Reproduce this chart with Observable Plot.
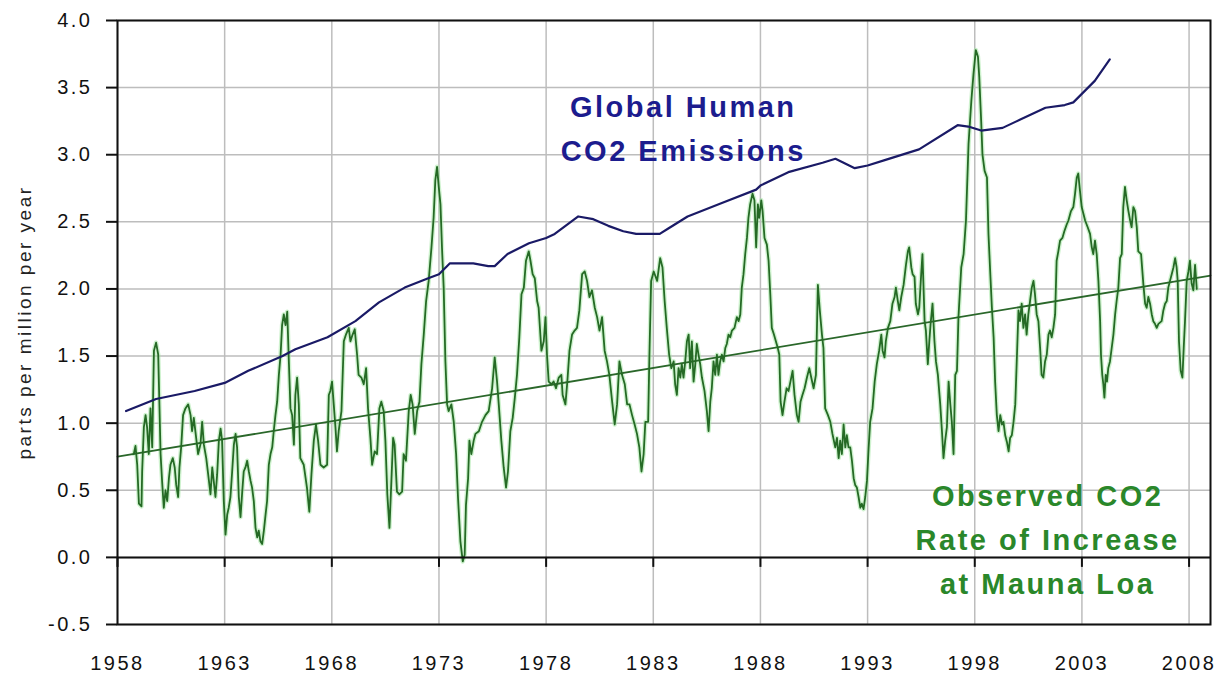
<!DOCTYPE html>
<html><head><meta charset="utf-8">
<script src="https://cdn.jsdelivr.net/npm/d3@7"></script>
<script src="https://cdn.jsdelivr.net/npm/@observablehq/plot@0.6"></script>
<style>html,body{margin:0;padding:0;background:#fff}</style>
</head><body><div id="chart"></div>
<script>
// ---- data ----
const xTicks = [1958, 1963, 1968, 1973, 1978, 1983, 1988, 1993, 1998, 2003, 2008];
const yTicks = [-0.5, 0, 0.5, 1, 1.5, 2, 2.5, 3, 3.5, 4];
const yLabel = "parts per million per year";

// Global human CO2 emissions, expressed in ppm per year [year, value]
const emissions = [[1958.4,1.09],[1959.8,1.18],[1961.6,1.24],[1963.0,1.30],[1964.1,1.39],[1965.7,1.50],[1966.3,1.55],[1967.8,1.64],[1969.1,1.76],[1970.2,1.90],[1971.4,2.01],[1972.5,2.08],[1973.0,2.11],[1973.5,2.19],[1974.6,2.19],[1975.3,2.17],[1975.6,2.17],[1976.2,2.26],[1977.2,2.34],[1978.0,2.38],[1978.4,2.41],[1979.5,2.54],[1980.2,2.52],[1980.9,2.47],[1981.6,2.43],[1982.2,2.41],[1983.3,2.41],[1983.7,2.45],[1984.6,2.54],[1986.2,2.64],[1987.8,2.74],[1988.0,2.77],[1989.3,2.87],[1990.9,2.94],[1991.5,2.97],[1992.4,2.90],[1993.0,2.92],[1993.8,2.96],[1995.4,3.04],[1997.2,3.22],[1997.7,3.21],[1998.3,3.18],[1999.3,3.20],[2000.1,3.26],[2001.3,3.35],[2002.2,3.37],[2002.6,3.39],[2003.6,3.55],[2004.3,3.71]];

// Observed CO2 rate of increase at Mauna Loa [year, value]
const rate = [[1958.76,0.77],[1958.84,0.83],[1958.92,0.69],[1959.00,0.40],[1959.12,0.38],[1959.15,0.64],[1959.23,0.97],[1959.31,1.06],[1959.38,0.97],[1959.46,0.77],[1959.54,1.11],[1959.62,0.82],[1959.70,1.54],[1959.80,1.60],[1959.90,1.51],[1959.96,1.11],[1960.01,0.77],[1960.08,0.57],[1960.16,0.37],[1960.24,0.50],[1960.32,0.42],[1960.40,0.59],[1960.47,0.69],[1960.58,0.74],[1960.67,0.67],[1960.74,0.54],[1960.83,0.45],[1960.89,0.67],[1960.97,0.82],[1961.06,1.06],[1961.17,1.11],[1961.30,1.14],[1961.41,1.06],[1961.48,0.94],[1961.56,1.04],[1961.67,0.89],[1961.76,0.77],[1961.87,0.84],[1961.95,1.01],[1962.03,0.84],[1962.14,0.74],[1962.23,0.62],[1962.34,0.47],[1962.42,0.67],[1962.49,0.57],[1962.57,0.45],[1962.65,0.62],[1962.73,0.87],[1962.81,0.96],[1962.88,0.87],[1962.96,0.42],[1963.04,0.17],[1963.12,0.32],[1963.19,0.37],[1963.27,0.45],[1963.35,0.64],[1963.43,0.84],[1963.51,0.92],[1963.58,0.82],[1963.66,0.45],[1963.74,0.30],[1963.82,0.49],[1963.89,0.64],[1963.97,0.67],[1964.05,0.72],[1964.13,0.64],[1964.21,0.57],[1964.28,0.52],[1964.36,0.42],[1964.44,0.22],[1964.52,0.15],[1964.59,0.20],[1964.67,0.12],[1964.75,0.10],[1964.83,0.20],[1964.91,0.32],[1964.98,0.42],[1965.06,0.69],[1965.14,0.77],[1965.22,0.82],[1965.29,0.94],[1965.37,1.06],[1965.45,1.16],[1965.53,1.36],[1965.61,1.51],[1965.68,1.73],[1965.76,1.81],[1965.84,1.73],[1965.92,1.83],[1966.00,1.44],[1966.07,1.11],[1966.15,1.06],[1966.23,0.84],[1966.30,1.21],[1966.38,1.34],[1966.46,1.14],
[1966.53,0.74],[1966.69,0.69],[1966.84,0.52],[1966.95,0.34],[1967.05,0.62],[1967.16,0.87],[1967.26,0.99],[1967.36,0.87],[1967.47,0.69],[1967.62,0.67],[1967.78,0.69],[1967.86,1.21],[1967.93,1.24],[1968.01,1.31],[1968.09,1.14],[1968.17,0.97],[1968.24,0.79],[1968.32,0.94],[1968.45,1.09],[1968.56,1.61],[1968.66,1.66],[1968.79,1.71],[1968.87,1.61],[1968.97,1.66],[1969.07,1.70],[1969.18,1.51],[1969.25,1.36],[1969.38,1.34],[1969.49,1.29],[1969.60,1.41],[1969.69,1.11],[1969.80,0.89],[1969.88,0.69],[1970.00,0.79],[1970.11,0.77],[1970.22,1.11],[1970.31,1.16],[1970.42,1.09],[1970.50,0.87],[1970.59,0.47],[1970.69,0.22],[1970.78,0.57],[1970.86,0.89],[1970.93,0.84],[1971.04,0.49],[1971.15,0.47],[1971.28,0.49],[1971.35,0.77],[1971.46,0.72],[1971.59,1.09],[1971.68,1.21],[1971.77,1.14],[1971.87,0.92],[1971.98,1.09],[1972.09,1.16],[1972.18,1.44],[1972.29,1.66],[1972.40,1.91],[1972.52,2.06],[1972.65,2.31],[1972.75,2.53],[1972.83,2.81],[1972.91,2.91],[1972.99,2.76],[1973.07,2.63],[1973.14,2.31],[1973.22,2.01],[1973.30,1.46],[1973.38,1.14],[1973.45,1.09],[1973.58,1.14],[1973.69,1.01],[1973.80,0.77],[1973.89,0.44],[1974.00,0.12],[1974.11,-0.03],[1974.20,0.02],[1974.26,0.39],[1974.36,0.59],[1974.42,0.87],[1974.51,0.77],[1974.62,0.87],
[1974.70,0.92],[1974.86,0.94],[1975.01,1.01],[1975.17,1.06],[1975.32,1.09],[1975.48,1.26],[1975.60,1.49],[1975.71,1.31],[1975.79,1.14],[1975.91,0.87],[1976.02,0.67],[1976.13,0.52],[1976.22,0.64],[1976.33,0.94],[1976.44,1.04],[1976.54,1.19],[1976.64,1.36],[1976.75,1.64],[1976.85,1.96],[1976.96,2.01],[1977.06,2.21],[1977.19,2.28],[1977.27,2.21],[1977.37,2.11],[1977.47,2.08],[1977.58,1.91],[1977.65,1.86],[1977.78,1.54],[1977.89,1.61],[1977.97,1.79],[1978.04,1.51],[1978.12,1.31],[1978.25,1.29],[1978.35,1.31],[1978.46,1.26],[1978.59,1.34],[1978.71,1.36],[1978.77,1.21],[1978.90,1.14],[1978.99,1.31],[1979.09,1.54],[1979.21,1.66],[1979.33,1.69],[1979.44,1.71],[1979.55,1.84],[1979.68,2.11],[1979.80,2.13],[1979.91,2.06],[1980.02,1.94],[1980.14,1.99],[1980.27,1.86],[1980.38,1.79],[1980.49,1.69],[1980.61,1.79],[1980.73,1.54],[1980.84,1.46],[1980.95,1.36],[1981.08,1.16],[1981.20,0.99],[1981.31,1.14],[1981.42,1.46],[1981.54,1.36],[1981.67,1.29],[1981.78,1.14],[1981.89,1.14],[1982.01,1.06],[1982.13,0.99],[1982.24,0.92],[1982.35,0.82],[1982.45,0.64],[1982.55,0.77],[1982.63,1.01],[1982.76,1.01],[1982.82,1.51],[1982.90,2.06],[1983.02,2.13],[1983.18,2.06],
[1983.32,2.23],[1983.43,2.16],[1983.53,1.91],[1983.63,1.71],[1983.74,1.51],[1983.84,1.41],[1983.95,1.46],[1984.02,1.29],[1984.10,1.21],[1984.18,1.41],[1984.26,1.34],[1984.33,1.44],[1984.41,1.34],[1984.49,1.46],[1984.57,1.61],[1984.65,1.66],[1984.72,1.41],[1984.80,1.61],[1984.88,1.31],[1984.96,1.44],[1985.03,1.59],[1985.11,1.51],[1985.19,1.44],[1985.27,1.34],[1985.39,1.24],[1985.50,1.09],[1985.58,0.94],[1985.66,1.16],[1985.73,1.26],[1985.81,1.46],[1985.89,1.36],[1985.97,1.51],[1986.04,1.36],[1986.12,1.46],[1986.20,1.51],[1986.28,1.46],[1986.36,1.56],[1986.43,1.59],[1986.51,1.66],[1986.59,1.64],[1986.67,1.69],[1986.79,1.71],[1986.90,1.79],[1986.98,1.76],[1987.06,1.81],[1987.13,2.01],[1987.21,2.11],[1987.29,2.26],[1987.37,2.38],[1987.44,2.53],[1987.52,2.63],[1987.63,2.71],[1987.72,2.66],[1987.80,2.31],[1987.88,2.63],[1987.94,2.53],[1988.04,2.66],[1988.10,2.58],[1988.19,2.38],[1988.30,2.33],[1988.38,2.21],[1988.46,1.96],[1988.53,1.71],[1988.63,1.66],[1988.72,1.61],[1988.81,1.56],[1988.88,1.51],[1988.94,1.16],[1989.03,1.06],[1989.12,1.16],[1989.22,1.26],[1989.31,1.24],[1989.40,1.31],[1989.50,1.39],[1989.59,1.21],[1989.70,1.06],[1989.78,1.01],[1989.87,1.16],[1989.96,1.21],[1990.06,1.26],[1990.17,1.34],[1990.28,1.41],[1990.37,1.34],[1990.48,1.26],[1990.59,1.36],[1990.68,2.03],[1990.77,1.84],[1990.87,1.66],[1990.94,1.56],[1991.02,1.11],[1991.15,1.06],[1991.26,1.01],[1991.36,0.92],[1991.49,0.82],
[1991.57,0.89],[1991.65,0.74],[1991.72,0.87],[1991.80,0.77],[1991.88,0.99],[1991.96,0.82],[1992.03,0.91],[1992.11,0.82],[1992.19,0.82],[1992.27,0.72],[1992.35,0.59],[1992.42,0.54],[1992.50,0.52],[1992.58,0.45],[1992.66,0.37],[1992.73,0.40],[1992.81,0.36],[1992.89,0.45],[1992.97,0.57],[1993.05,0.82],[1993.12,1.01],[1993.23,1.11],[1993.33,1.31],[1993.43,1.44],[1993.54,1.54],[1993.64,1.66],[1993.70,1.54],[1993.79,1.49],[1993.85,1.61],[1993.95,1.71],[1994.06,1.76],[1994.16,1.89],[1994.26,1.94],[1994.32,2.01],[1994.41,1.91],[1994.48,1.84],[1994.57,1.94],[1994.68,2.03],[1994.79,2.18],[1994.88,2.28],[1994.94,2.31],[1995.04,2.16],[1995.10,2.11],[1995.19,2.09],[1995.25,1.89],[1995.35,1.81],[1995.41,1.86],[1995.50,2.11],[1995.56,2.26],[1995.66,1.76],[1995.72,1.69],[1995.81,1.44],[1995.88,1.61],[1995.94,1.74],[1996.03,1.89],[1996.12,1.61],[1996.19,1.46],[1996.28,1.36],[1996.39,1.14],[1996.47,0.94],[1996.54,0.74],[1996.62,0.87],[1996.70,0.97],[1996.78,1.31],[1996.86,1.14],[1996.93,1.01],[1997.01,0.77],[1997.09,1.36],[1997.17,1.39],[1997.24,1.79],[1997.37,2.16],[1997.48,2.26],[1997.59,2.51],[1997.71,3.08],[1997.84,3.40],[1997.94,3.60],[1998.05,3.78],[1998.15,3.73],[1998.21,3.58],[1998.30,3.25],[1998.36,3.00],[1998.46,2.88],[1998.57,2.83],[1998.64,2.41],[1998.72,2.13],[1998.80,1.86],[1998.88,1.64],[1998.95,1.31],[1999.03,1.06],[1999.11,0.94],[1999.19,1.06],[1999.27,0.99],[1999.34,1.01],[1999.42,0.91],[1999.50,0.86],[1999.58,0.79],[1999.65,0.89],[1999.73,0.91],[1999.81,1.01],[1999.89,1.14],[1999.97,1.51],
[2000.04,1.84],[2000.11,1.76],[2000.19,1.89],[2000.27,1.71],[2000.35,1.81],[2000.42,1.66],[2000.50,1.81],[2000.58,1.91],[2000.66,2.01],[2000.74,2.06],[2000.81,1.96],[2000.89,1.81],[2000.97,1.76],[2001.05,1.56],[2001.12,1.36],[2001.20,1.34],[2001.28,1.46],[2001.36,1.51],[2001.44,1.66],[2001.51,1.69],[2001.59,1.64],[2001.67,1.71],[2001.75,1.81],[2001.82,2.21],[2001.90,2.28],[2001.98,2.36],[2002.09,2.38],[2002.18,2.43],[2002.29,2.48],[2002.37,2.51],[2002.49,2.58],[2002.60,2.61],[2002.68,2.71],[2002.76,2.83],[2002.83,2.86],[2002.91,2.73],[2002.99,2.61],[2003.07,2.56],[2003.15,2.51],[2003.27,2.46],[2003.38,2.41],[2003.46,2.31],[2003.53,2.26],[2003.61,2.36],[2003.69,2.26],[2003.77,2.06],[2003.85,1.76],[2003.89,1.51],[2003.95,1.36],[2004.00,1.29],[2004.05,1.19],[2004.11,1.36],[2004.17,1.31],[2004.23,1.41],[2004.31,1.46],[2004.39,1.56],[2004.47,1.66],[2004.55,1.81],[2004.62,1.91],[2004.70,2.01],[2004.78,2.23],[2004.86,2.26],[2004.93,2.61],[2005.01,2.76],[2005.09,2.66],[2005.17,2.58],[2005.25,2.51],[2005.32,2.46],[2005.40,2.61],[2005.48,2.58],[2005.56,2.46],[2005.63,2.28],[2005.76,2.26],[2005.87,2.03],[2005.95,1.89],[2006.02,1.86],[2006.10,1.94],[2006.18,1.89],[2006.26,1.81],[2006.33,1.76],[2006.41,1.74],[2006.49,1.71],[2006.57,1.74],[2006.72,1.76],[2006.80,1.84],[2006.88,1.89],[2006.96,1.91],[2007.03,2.01],[2007.11,2.06],[2007.19,2.11],[2007.27,2.16],[2007.35,2.23],[2007.42,2.16],[2007.47,2.06],[2007.53,1.61],[2007.61,1.39],[2007.69,1.34],[2007.75,1.56],[2007.81,1.76],[2007.89,2.06],[2007.97,2.13],[2008.04,2.21],[2008.12,2.04],[2008.20,1.99],[2008.28,2.18],[2008.36,2.00]];

// linear trend of the observed rate [year, value]
const trend = [[1958, 0.75], [2009, 2.10]];

// annotation labels (anchor in data units)
const annotations = [
  {text: "Global Human\nCO2 Emissions", x: 1984.4, y: 3.22, color: "#1c1c8e"},
  {text: "Observed CO2\nRate of Increase\nat Mauna Loa", x: 2001.4, y: 0.16, color: "#2a872a"}
];

const FONT = "'Liberation Sans', Arial, Helvetica, sans-serif";

const chart = Plot.plot({
  width: 1223, height: 679,
  marginLeft: 117, marginRight: 13, marginTop: 20, marginBottom: 55,
  style: {fontFamily: FONT, background: "#fff", color: "#111"},
  x: {domain: [1958, 2009]},
  y: {domain: [-0.5, 4]},
  color: {type: "identity"},
  marks: [
    Plot.gridX(xTicks, {stroke: "#bdbdbd", strokeOpacity: 1, strokeWidth: 1.5}),
    Plot.gridY(yTicks, {stroke: "#bdbdbd", strokeOpacity: 1, strokeWidth: 1.5}),
    Plot.line(rate, {x: d => d[0], y: d => d[1], stroke: "#a6e8a6", strokeWidth: 4.5, strokeOpacity: 0.55}),
    Plot.line(trend, {x: d => d[0], y: d => d[1], stroke: "#2a672a", strokeWidth: 1.8}),
    Plot.line(rate, {x: d => d[0], y: d => d[1], stroke: "#256a25", strokeWidth: 1.8}),
    Plot.line(emissions, {x: d => d[0], y: d => d[1], stroke: "#1a1a66", strokeWidth: 2.2}),
    Plot.ruleY([0], {stroke: "#111", strokeWidth: 2}),
    Plot.ruleX(xTicks, {x: d => d, y1: 0, y2: 0, insetBottom: -10, stroke: "#111", strokeWidth: 2}),
    Plot.frame({stroke: "#111", strokeWidth: 2}),
    Plot.axisY(yTicks, {tickSize: 11, tickPadding: 14, tickFormat: d => d.toFixed(1), fontSize: 20, strokeWidth: 2, label: null}),
    Plot.axisX(xTicks, {tickSize: 0, tickPadding: 31, tickFormat: d => String(d), fontSize: 20, label: null}),
    Plot.text([yLabel], {frameAnchor: "left", textAnchor: "middle", dx: -93, rotate: -90, fontSize: 19, fill: "#222"}),
    Plot.text(annotations, {x: "x", y: "y", text: "text", fill: "color", fontSize: 29, fontWeight: "bold", lineHeight: 1.52})
  ]
});

document.getElementById("chart").appendChild(chart);
const svg = d3.select(chart);
svg.selectAll('g[aria-label="x-axis tick label"] text, g[aria-label="y-axis tick label"] text').style("letter-spacing", "2.5px");
svg.selectAll('g[aria-label="text"] text').style("letter-spacing", "2.5px");
svg.selectAll('g[aria-label="text"] tspan').style("letter-spacing", "2.5px");
</script>
</body></html>
